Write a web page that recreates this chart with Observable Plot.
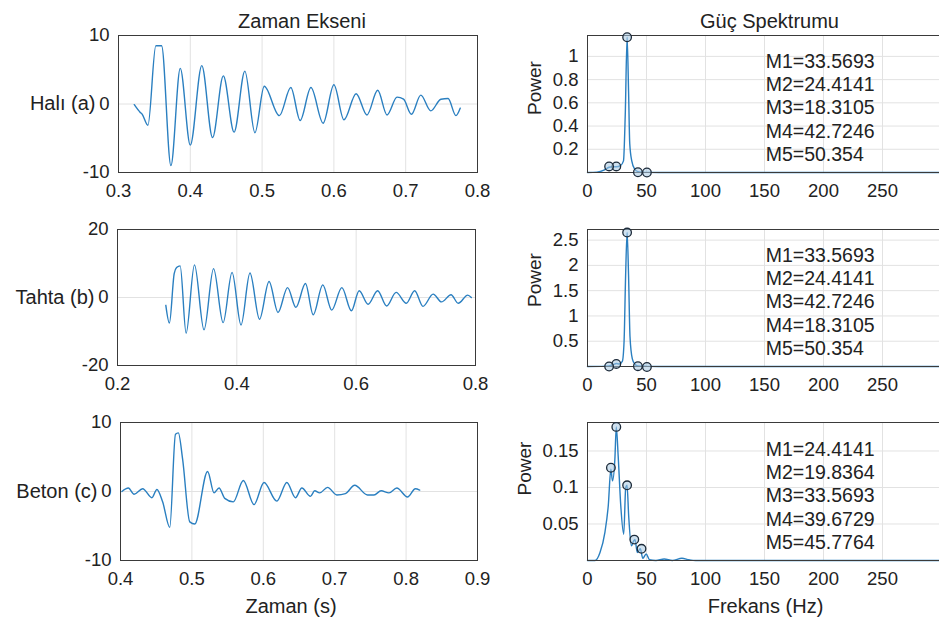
<!DOCTYPE html>
<html><head><meta charset="utf-8">
<script src="https://cdn.jsdelivr.net/npm/d3@7"></script>
<script src="https://cdn.jsdelivr.net/npm/@observablehq/plot@0.6"></script>
<style>
html,body{margin:0;padding:0;background:#fff;overflow:hidden;}
#wrap{position:relative;width:939px;height:631px;overflow:hidden;background:#fff;}
#wrap svg{position:absolute;}
</style></head><body><div id="wrap"></div>
<script>
// ---------- Time-domain signals (extrema) ----------
const haliT = [0.322,0.330,0.333,0.341,0.352,0.360,0.373,0.386,0.400,0.416,0.431,0.446,0.461,0.476,0.490,0.503,0.524,0.540,0.553,0.568,0.585,0.600,0.614,0.631,0.646,0.661,0.674,0.688,0.697,0.708,0.721,0.735,0.749,0.759,0.770,0.776];
const haliV = [-0.1,-1.2,-1.5,-3.1,8.5,8.5,-9.0,5.2,-6.0,5.6,-4.9,4.1,-4.1,4.8,-4.2,2.6,-1.7,2.4,-2.4,2.4,-2.8,2.8,-2.3,1.5,-1.6,2.0,-1.6,1.0,0.7,-1.5,1.3,-1.0,0.7,0.8,-1.7,-0.6];

const tahtaT = [0.281,0.287,0.295,0.299,0.305,0.315,0.329,0.345,0.361,0.377,0.392,0.407,0.422,0.438,0.454,0.469,0.485,0.499,0.515,0.528,0.544,0.559,0.576,0.592,0.605,0.620,0.636,0.651,0.667,0.684,0.698,0.712,0.729,0.743,0.759,0.771,0.787,0.793];
const tahtaV = [-2.3,-7.5,7.0,8.8,9.3,-10.5,9.6,-9.5,8.5,-7.4,7.4,-8.1,7.2,-6.4,4.7,-4.4,2.9,-2.9,4.1,-5.1,3.7,-3.7,2.9,-3.9,2.0,-2.0,2.0,-2.5,1.5,-1.7,2.0,-2.6,1.0,-1.3,0.8,-1.7,0.7,0.0];

const betonT = [0.402,0.411,0.419,0.431,0.444,0.451,0.459,0.469,0.477,0.481,0.487,0.497,0.504,0.522,0.531,0.538,0.546,0.558,0.572,0.587,0.601,0.619,0.633,0.645,0.654,0.666,0.672,0.679,0.690,0.703,0.715,0.728,0.746,0.755,0.765,0.776,0.787,0.802,0.813,0.819];
const betonV = [0.0,0.5,-0.4,0.4,-0.9,0.3,-1.5,-5.2,8.3,8.5,4.7,-4.4,-4.7,2.9,-0.2,0.5,-1.0,-1.5,1.6,-1.9,1.3,-1.4,1.3,-0.9,0.5,-0.7,0.1,-0.2,0.6,-0.5,-0.3,0.9,-0.5,-0.5,0.1,-0.2,0.5,-0.8,0.4,0.2];

// ---------- Power spectra ----------
const haliF = [0,8,14,18.3,21,24.4,28,30.5,32,33.57,34.8,35.8,37.5,40,42.7,46,50.35,60,300];
const haliP = [0,0.003,0.02,0.045,0.05,0.05,0.06,0.1,0.5,1.165,0.7,0.25,0.1,0.03,0.008,0.003,0.001,0,0];
const tahtaF = [0,12,18.3,22,24.4,27,29.5,31,32.3,33.57,34.8,36,38,40,42.7,50.35,60,300];
const tahtaP = [0,0.003,0.012,0.04,0.06,0.05,0.1,0.5,1.8,2.65,1.8,0.6,0.15,0.05,0.01,0.003,0,0];
const betonF = [0,6.4,10.6,14.8,17.6,19.8,21.2,23.2,24.4,26,28.2,30.7,32.4,33.5,34.9,37.2,39.1,40.2,42.2,44.7,46.9,49.7,52.5,58,65,72,80,86,91.6,300];
const betonP = [0,0,0.011,0.039,0.075,0.125,0.109,0.139,0.183,0.143,0.075,0.036,0.1,0.103,0.061,0.02,0.027,0.029,0.011,0.016,0.003,0.009,0.001,0,0.002,0,0.003,0.001,0,0];

// ---------- Peak markers ----------
const haliMf = [33.5693,24.4141,18.3105,42.7246,50.354];
const haliMp = [1.165,0.052,0.052,0.002,0.0];
const tahtaMf = [33.5693,24.4141,42.7246,18.3105,50.354];
const tahtaMp = [2.65,0.05,0.006,0.0,-0.01];
const betonMf = [24.4141,19.8364,33.5693,39.6729,45.7764];
const betonMp = [0.183,0.127,0.103,0.0286,0.016];

// ---------- Labels / ticks ----------
const rowLabels = ["Halı (a)","Tahta (b)","Beton (c)"];
const colTitles = ["Zaman Ekseni","Güç Spektrumu"];
const xLabels = ["Zaman (s)","Frekans (Hz)"];
const yLabelRight = "Power";
const ticksT1 = [0.3,0.4,0.5,0.6,0.7,0.8];
const ticksT2 = [0.2,0.4,0.6,0.8];
const ticksT3 = [0.4,0.5,0.6,0.7,0.8,0.9];
const ticksV1 = [-10,0,10];
const ticksV2 = [-20,0,20];
const ticksF = [0,50,100,150,200,250];
const ticksP1 = [0.2,0.4,0.6,0.8,1];
const ticksP2 = [0.5,1,1.5,2,2.5];
const ticksP3 = [0.05,0.1,0.15];
const annot1 = ["M1=33.5693","M2=24.4141","M3=18.3105","M4=42.7246","M5=50.354"];
const annot2 = ["M1=33.5693","M2=24.4141","M3=42.7246","M4=18.3105","M5=50.354"];
const annot3 = ["M1=24.4141","M2=19.8364","M3=33.5693","M4=39.6729","M5=45.7764"];
const annotX = 151;

// ---------- helpers ----------
const FONT = '"Liberation Sans", Arial, Helvetica, sans-serif';
const TXT = "#222";
const LINE = "#2a7fc0";
const GRID = "#e2e2e2";
const wrap = document.getElementById("wrap");
const zip = (a, b, ka, kb) => a.map((d, i) => ({[ka]: d, [kb]: b[i]}));
const fmt = d => String(d);
const TICKFS = 18.5;

function panel(o) {
  const p = Plot.plot({
    width: o.fw + o.ml + o.mr, height: o.fh + o.mt + o.mb,
    marginLeft: o.ml, marginRight: o.mr, marginTop: o.mt, marginBottom: o.mb,
    style: {fontFamily: FONT, fontSize: TICKFS + "px", color: TXT, background: "transparent", overflow: "visible"},
    x: {domain: o.xd, label: null},
    y: {domain: o.yd, label: null},
    marks: o.marks
  });
  p.style.position = "absolute";
  p.style.left = (o.fl - o.ml) + "px";
  p.style.top = (o.ft - o.mt) + "px";
  wrap.appendChild(p);
}

function timeMarks(T, V, xt, yt) {
  return [
    Plot.ruleX(xt, {stroke: GRID, strokeWidth: 1}),
    Plot.ruleY(yt, {stroke: GRID, strokeWidth: 1}),
    Plot.line(zip(T, V, "t", "v"), {x: "t", y: "v", stroke: LINE, strokeWidth: 1.4, curve: "monotone-x"}),
    Plot.axisX(xt, {tickSize: 0, tickPadding: 11, tickFormat: fmt, fontSize: TICKFS}),
    Plot.axisY(yt, {tickSize: 0, tickPadding: 9, tickFormat: fmt, fontSize: TICKFS}),
    Plot.frame({stroke: "#3a3a3a", strokeWidth: 1})
  ];
}
function specMarks(F, P, Mf, Mp, xt, yt, annot, annotDy, powerDx, powerDy) {
  return [
    Plot.ruleX(xt, {stroke: GRID, strokeWidth: 1}),
    Plot.ruleY(yt, {stroke: GRID, strokeWidth: 1}),
    Plot.line(zip(F, P, "f", "p"), {x: "f", y: "p", stroke: LINE, strokeWidth: 1.4, curve: "monotone-x"}),
    Plot.axisX(xt, {tickSize: 0, tickPadding: 11, tickFormat: fmt, fontSize: TICKFS}),
    Plot.axisY(yt, {tickSize: 0, tickPadding: 9, tickFormat: fmt, fontSize: TICKFS}),
    Plot.frame({stroke: "#3a3a3a", strokeWidth: 1}),
    Plot.dot(zip(Mf, Mp, "f", "p"), {x: "f", y: "p", r: 4.3, stroke: "#1d2b3a", strokeWidth: 1.3, fill: "#a8c8e2", fillOpacity: 0.55}),
    Plot.text([annot.join("\n")], {x: () => annotX, frameAnchor: "top", text: d => d, textAnchor: "start", lineAnchor: "top", lineHeight: 1.19, dy: annotDy, fontSize: 19.5, fill: TXT}),
    Plot.text([yLabelRight], {frameAnchor: "left", text: d => d, rotate: -90, dx: powerDx, dy: powerDy, fontSize: 19, fill: TXT})
  ];
}
const rowLabel = (s, dy = 0) => Plot.text([s], {frameAnchor: "left", text: d => d, textAnchor: "end", dx: -23, dy, fontSize: 20, fill: TXT});

// ---------- Left column ----------
panel({fl: 118, ft: 35, fw: 359, fh: 137, ml: 118, mr: 6, mt: 35, mb: 30, xd: [0.3, 0.8], yd: [-10, 10],
  marks: [...timeMarks(haliT, haliV, ticksT1, ticksV1), rowLabel(rowLabels[0]),
    Plot.text([colTitles[0]], {frameAnchor: "top", text: d => d, dx: 4, dy: -22, fontSize: 20, fill: TXT})]});
panel({fl: 117, ft: 229, fw: 358, fh: 136, ml: 117, mr: 6, mt: 10, mb: 30, xd: [0.2, 0.8], yd: [-20, 20],
  marks: [...timeMarks(tahtaT, tahtaV, ticksT2, ticksV2), rowLabel(rowLabels[1])]});
panel({fl: 120, ft: 422, fw: 357, fh: 138, ml: 120, mr: 6, mt: 10, mb: 70, xd: [0.4, 0.9], yd: [-10, 10],
  marks: [...timeMarks(betonT, betonV, ticksT3, ticksV1), rowLabel(rowLabels[2]),
    Plot.text([xLabels[0]], {frameAnchor: "bottom", text: d => d, dx: -8, dy: 52, fontSize: 20, fill: TXT})]});

// ---------- Right column ----------
panel({fl: 587, ft: 35, fw: 354, fh: 137, ml: 70, mr: 0, mt: 35, mb: 30, xd: [0, 300], yd: [0, 1.18],
  marks: [...specMarks(haliF, haliP, haliMf, haliMp, ticksF, ticksP1, annot1, 16, -53, 11),
    Plot.text([colTitles[1]], {frameAnchor: "top", text: d => d, dx: 5, dy: -22, fontSize: 20, fill: TXT})]});
panel({fl: 587, ft: 229, fw: 354, fh: 137, ml: 70, mr: 0, mt: 10, mb: 30, xd: [0, 300], yd: [0, 2.71],
  marks: specMarks(tahtaF, tahtaP, tahtaMf, tahtaMp, ticksF, ticksP2, annot2, 16, -53, 9)});
panel({fl: 587, ft: 422, fw: 354, fh: 138, ml: 80, mr: 0, mt: 10, mb: 70, xd: [0, 300], yd: [0, 0.189],
  marks: [...specMarks(betonF, betonP, betonMf, betonMp, ticksF, ticksP3, annot3, 17, -63, 4),
    Plot.text([xLabels[1]], {frameAnchor: "bottom", text: d => d, dx: 1, dy: 52, fontSize: 20, fill: TXT})]});
</script>
</body></html>
